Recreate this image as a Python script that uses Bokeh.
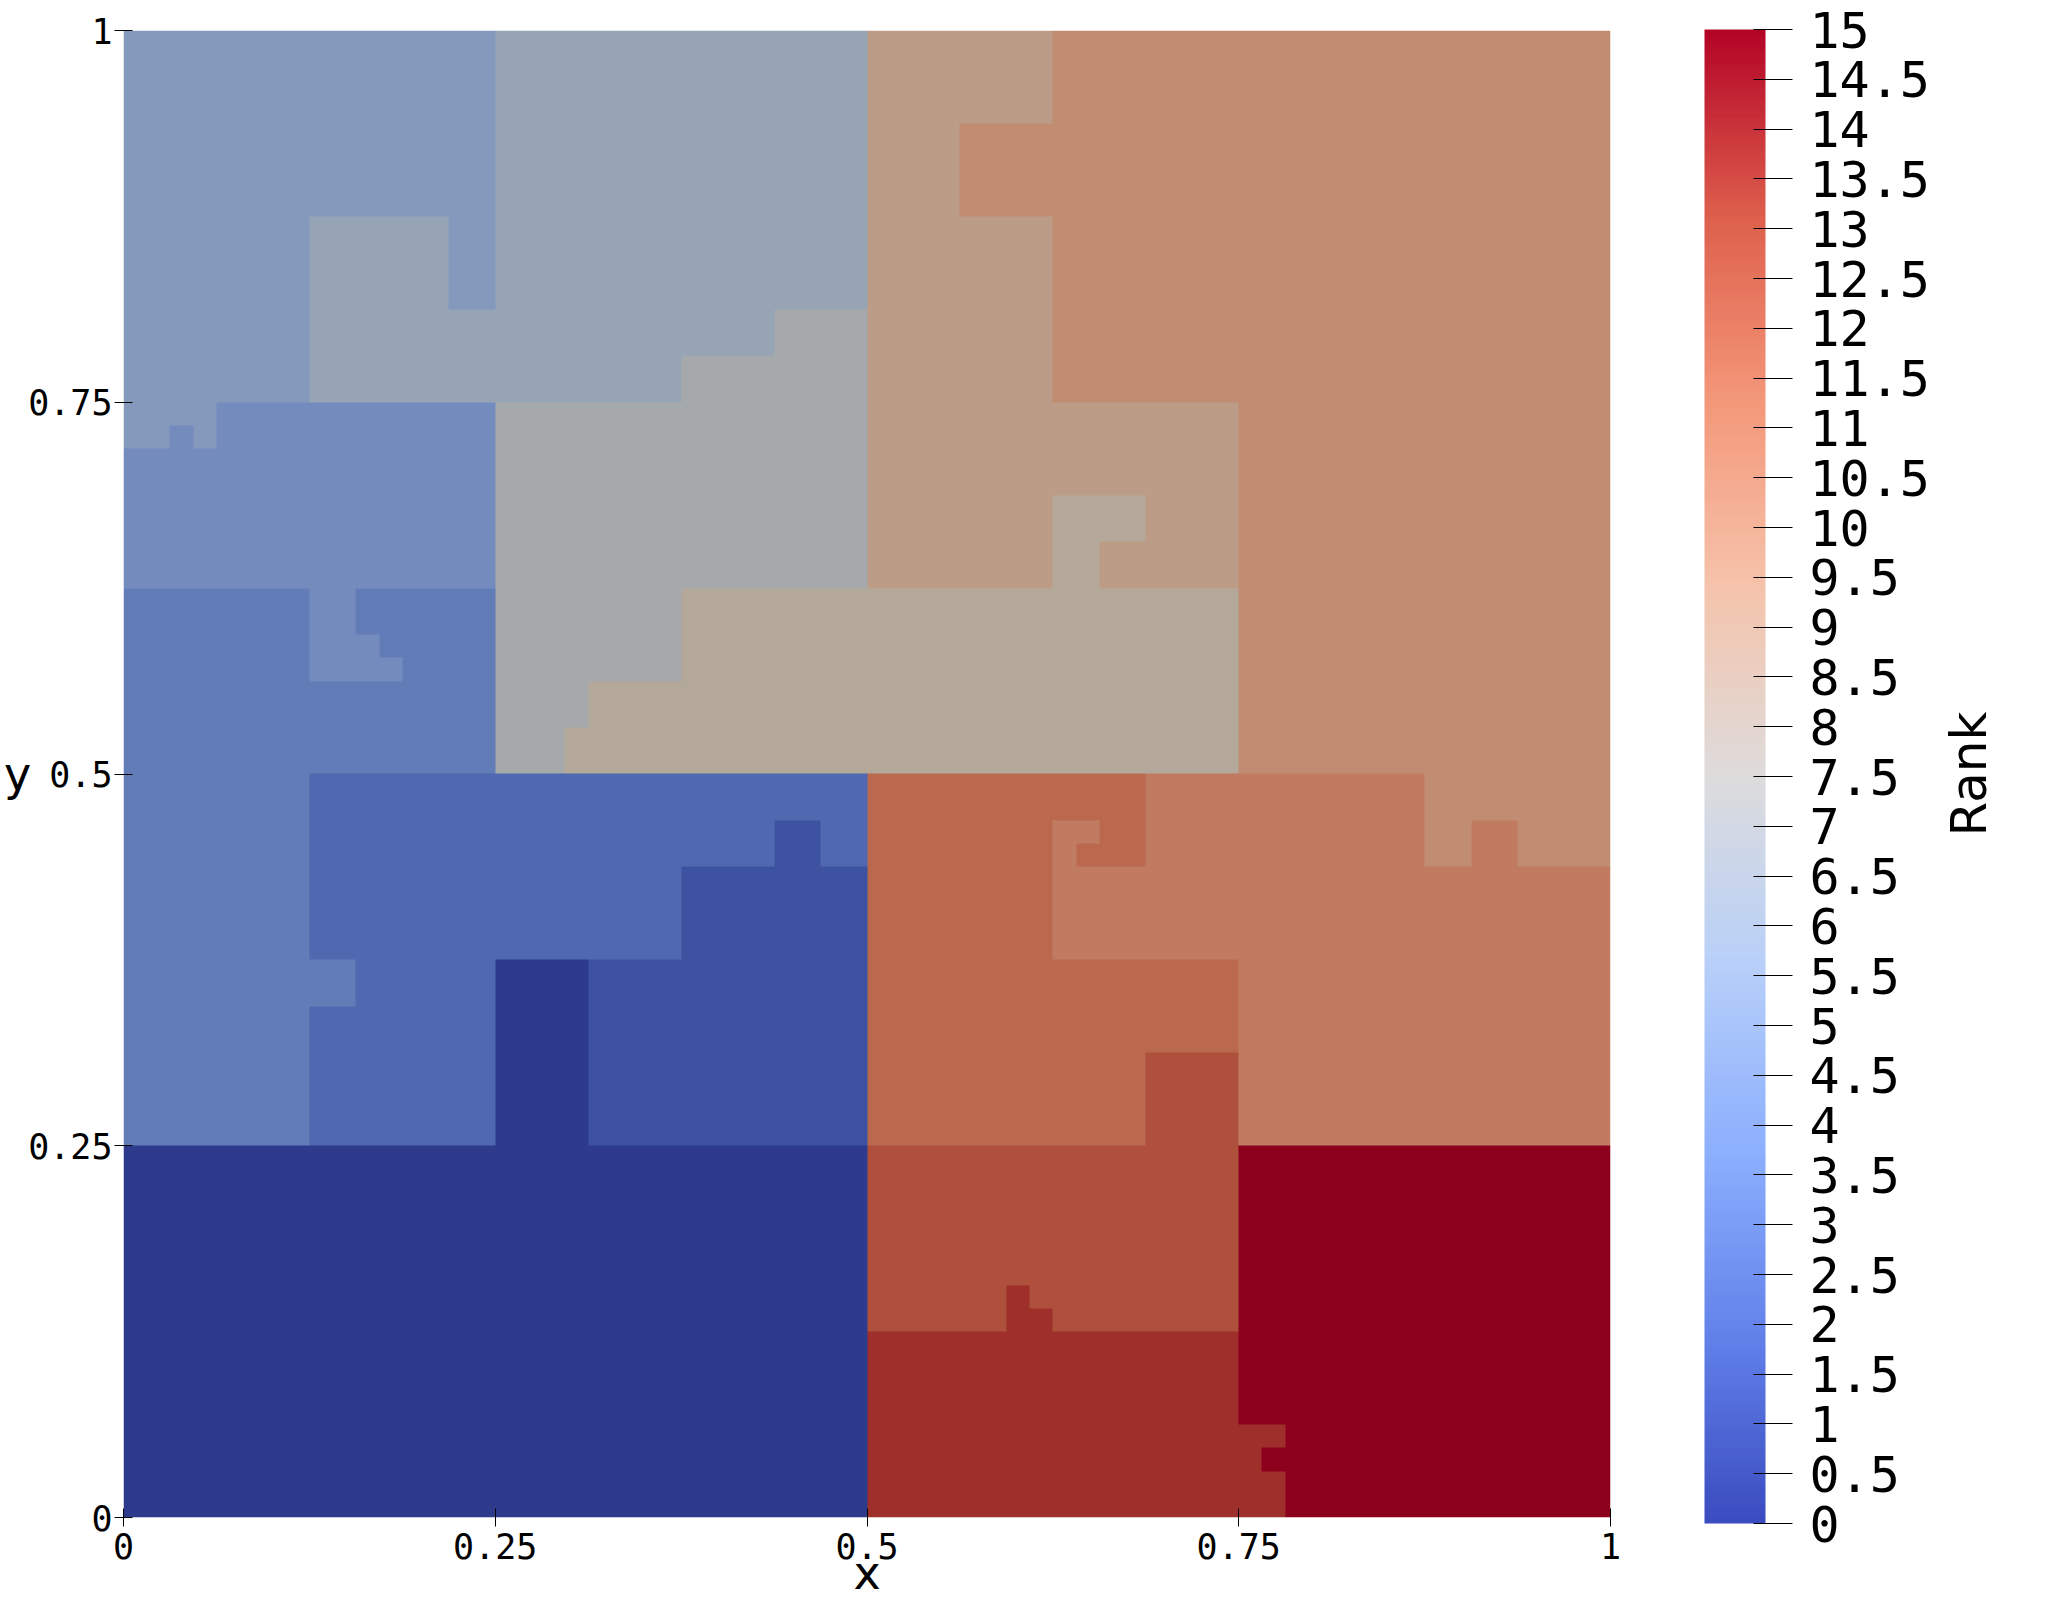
import numpy as np
from bokeh.plotting import figure
from bokeh.layouts import row
from bokeh.models import (LinearColorMapper, ColorBar, FixedTicker, CustomJSTickFormatter,
                          Range1d)
from bokeh.embed import file_html
from bokeh.resources import INLINE

# ---------------- data ----------------
# domain decomposition of a 64 x 64 cell grid on [0,1]^2 over 16 MPI ranks
n_cells = 64
# rank regions (cell index ranges, row 0 at the bottom), painted in this order
region_rank = [0, 15, 14, 13, 3, 2, 0, 1, 1, 1, 3, 3, 4, 4, 4, 4, 5, 5, 5, 5,
               6, 6, 6, 7, 7, 7, 8, 8, 8, 8, 8, 9, 9, 9, 9,
               10, 10, 10, 10, 10, 10, 11, 11, 11, 11, 11, 11,
               12, 12, 12, 12, 12, 12, 13, 14, 14, 14, 14, 14]
region_x0 = [0, 48, 32, 32, 0, 8, 16, 20, 24, 28, 8, 8, 0, 8, 10, 11, 0, 0, 0, 3,
             16, 8, 14, 16, 24, 28, 20, 19, 24, 40, 42, 32, 40, 44, 42,
             40, 36, 48, 56, 58, 60, 44, 58, 40, 48, 40, 40,
             32, 40, 44, 40, 41, 42, 44, 38, 39, 48, 48, 48]
region_x1 = [32, 64, 48, 48, 8, 32, 20, 32, 32, 30, 10, 16, 16, 10, 11, 12, 16, 4, 2, 4,
             32, 14, 16, 32, 28, 32, 48, 20, 48, 42, 44, 40, 48, 48, 48,
             64, 40, 64, 58, 60, 64, 56, 60, 64, 64, 42, 41,
             40, 44, 48, 42, 42, 44, 48, 39, 40, 50, 49, 50]
region_y0 = [0, 0, 0, 8, 16, 16, 16, 16, 24, 28, 22, 32, 40, 36, 36, 36, 48, 47, 46, 46,
             48, 48, 48, 32, 48, 48, 32, 32, 36, 40, 42, 40, 44, 42, 40,
             48, 56, 32, 28, 30, 28, 28, 28, 24, 16, 29, 28,
             16, 16, 20, 30, 28, 28, 16, 8, 8, 0, 2, 3]
region_y1 = [16, 16, 8, 16, 40, 32, 24, 24, 28, 30, 24, 40, 48, 40, 38, 37, 64, 48, 47, 47,
             64, 56, 52, 48, 50, 52, 36, 34, 40, 44, 44, 64, 48, 44, 42,
             64, 60, 48, 32, 32, 32, 32, 30, 28, 24, 30, 29,
             32, 24, 24, 32, 29, 32, 20, 10, 9, 2, 3, 4]

x_ticks = [0, 0.25, 0.5, 0.75, 1]
y_ticks = [0, 0.25, 0.5, 0.75, 1]
rank_ticks = [i * 0.5 for i in range(31)]

# ---------------- styles ----------------
# shaded cell colours of ranks 0..15 as rendered in the view
rank_colors = ["#2e3a8c", "#3d52a0", "#4f68b0", "#627cb8", "#748cbd", "#8599bc",
               "#96a4b6", "#a6a9ab", "#b3a899", "#bd9c87", "#c18d72", "#c17b60",
               "#bb694e", "#af503c", "#9e2f2a", "#8c001e"]
# cool-to-warm colour bar
cw_stops = [(59, 76, 192), (98, 130, 234), (141, 176, 254), (184, 208, 249),
            (221, 220, 220), (245, 196, 172), (244, 152, 122), (222, 96, 77),
            (180, 4, 38)]


def make_palette(stops, n=256):
    out = []
    m = len(stops) - 1
    for i in range(n):
        t = i / (n - 1) * m
        k = min(int(t), m - 1)
        f = t - k
        c = [round(stops[k][j] + (stops[k + 1][j] - stops[k][j]) * f) for j in range(3)]
        out.append("#%02x%02x%02x" % tuple(c))
    return out


cw_palette = make_palette(cw_stops)

# ---------------- build grid ----------------
grid = np.zeros((n_cells, n_cells))
for r, x0, x1, y0, y1 in zip(region_rank, region_x0, region_x1, region_y0, region_y1):
    grid[y0:y1, x0:x1] = r

MONO = "DejaVu Sans Mono"
SANS = "DejaVu Sans"
FRAME = 1487
TOP, BOTTOM = 30, 78

p = figure(frame_width=FRAME, frame_height=FRAME,
           x_range=Range1d(0, 1), y_range=Range1d(0, 1),
           output_backend="svg", toolbar_location=None,
           min_border_left=116, min_border_top=TOP, min_border_bottom=BOTTOM,
           min_border_right=326)
p.grid.visible = False
p.outline_line_color = None

rank_mapper = LinearColorMapper(palette=rank_colors, low=-0.5, high=15.5)
p.image(image=[grid], x=0, y=0, dw=1, dh=1, color_mapper=rank_mapper)

fmt = CustomJSTickFormatter(code="return tick.toString();")

for ax, ticks in ((p.xaxis[0], x_ticks), (p.yaxis[0], y_ticks)):
    ax.ticker = FixedTicker(ticks=ticks)
    ax.formatter = fmt
    ax.axis_line_color = None
    ax.major_tick_in = 9
    ax.major_tick_out = 9
    ax.major_tick_line_color = "black"
    ax.major_tick_line_width = 1
    ax.minor_tick_line_color = None
    ax.major_label_text_font = MONO
    ax.major_label_text_font_size = "35px"
    ax.major_label_text_color = "black"
    ax.axis_label_text_font = SANS
    ax.axis_label_text_font_size = "46px"
    ax.axis_label_text_font_style = "normal"
    ax.axis_label_text_color = "black"

p.xaxis.axis_label = "x"
p.xaxis.major_label_standoff = 6
p.xaxis.axis_label_standoff = -16
p.yaxis.axis_label = "y"
p.yaxis.axis_label_orientation = "horizontal"
p.yaxis.major_label_standoff = 2
p.yaxis.axis_label_standoff = -6

cb_mapper = LinearColorMapper(palette=cw_palette, low=0, high=15)
cbar = ColorBar(color_mapper=cb_mapper, ticker=FixedTicker(ticks=rank_ticks),
                formatter=fmt, width=61, height=1494, padding=0, margin=0,
                location=(FRAME + 94, -6),
                major_tick_in=12, major_tick_out=27, major_tick_line_color="black",
                major_tick_line_width=1, minor_tick_line_color=None,
                label_standoff=17, major_label_text_font=MONO,
                major_label_text_font_size="50px", major_label_text_color="black",
                bar_line_color=None, background_fill_color=None,
                background_fill_alpha=0, border_line_color=None)
p.add_layout(cbar)

# narrow companion panel carrying the colour-bar title, reading upwards
pt = figure(frame_width=1, frame_height=FRAME,
            x_range=Range1d(0, 1), y_range=Range1d(0, 1),
            output_backend="svg", toolbar_location=None,
            min_border_left=0, min_border_right=0,
            min_border_top=TOP, min_border_bottom=BOTTOM)
pt.grid.visible = False
pt.outline_line_color = None
pt.xaxis.visible = False
pt.yaxis.ticker = FixedTicker(ticks=[])
pt.yaxis.axis_line_color = None
pt.yaxis.major_tick_in = 0
pt.yaxis.major_tick_out = 0
pt.yaxis.minor_tick_line_color = None
pt.yaxis.major_label_text_font_size = "0px"
pt.yaxis.axis_label = "Rank"
pt.yaxis.axis_label_standoff = 0
pt.yaxis.axis_label_text_font = SANS
pt.yaxis.axis_label_text_font_size = "50px"
pt.yaxis.axis_label_text_font_style = "normal"
pt.yaxis.axis_label_text_color = "black"

layout = row(p, pt)
open("out.html", "w").write(file_html(layout, INLINE))
